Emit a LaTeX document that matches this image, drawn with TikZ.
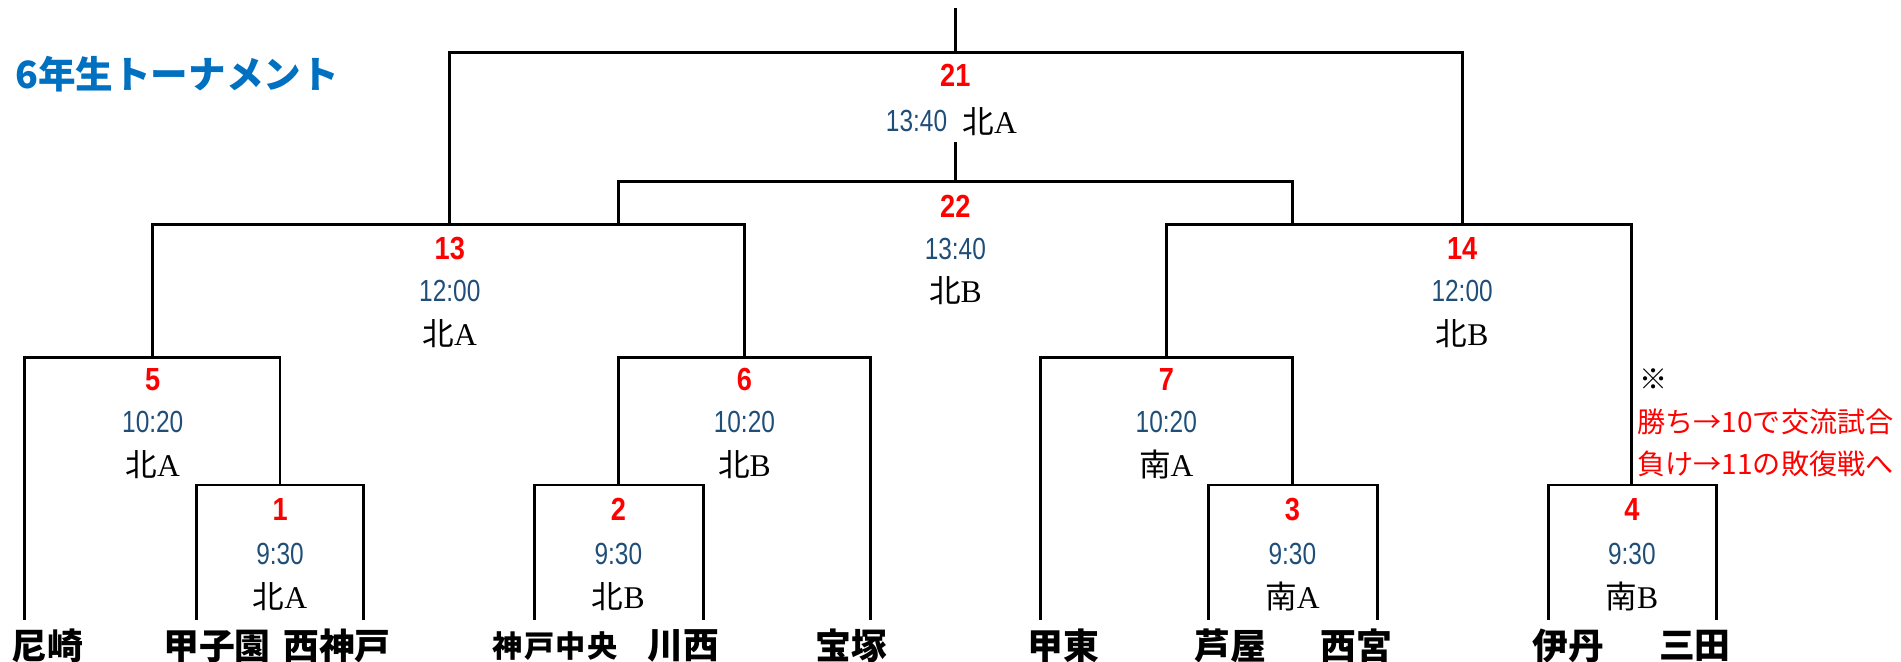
\documentclass[tikz,border=0pt]{standalone}
\usepackage{fontspec}
\usepackage{tikz}
\usetikzlibrary{positioning}

\setmainfont{Liberation Serif}
\newfontfamily\jpfont{Noto Sans CJK JP}
\newfontfamily\numfont{Liberation Sans}[FakeStretch=0.85]
\newfontfamily\timefont{Liberation Sans}[FakeStretch=0.8]
\definecolor{titleblue}{RGB}{0,112,192}
\definecolor{timeblue}{RGB}{31,78,121}
\newcommand{\court}[2]{{\jpfont #1}#2}

\begin{document}
\begin{tikzpicture}[x=0.012124cm,y=-0.012124cm,
	paths/.style={line width=0.8pt, line cap=rect},
	num/.style={inner sep=0pt, text=red, font=\fontsize{9.1}{9.1}\selectfont\numfont\bfseries},
	time/.style={inner sep=0pt, text=timeblue, font=\fontsize{8.7}{8.7}\selectfont\timefont},
	court/.style={inner sep=0pt, font=\fontsize{9}{9}\selectfont},
	team/.style={inner sep=0pt, font=\fontsize{10.2}{10.2}\selectfont\jpfont\bfseries},
	smallteam/.style={inner sep=0pt, font=\fontsize{8.6}{8.6}\selectfont\jpfont\bfseries\addfontfeature{LetterSpace=5}},
	note/.style={inner sep=0pt, anchor=west, text=red, font=\fontsize{8}{8}\selectfont\jpfont},
	heading/.style={inner sep=0pt, anchor=west, text=titleblue, font=\fontsize{10.7}{10.7}\selectfont\jpfont\bfseries}
	]
\useasboundingbox (0,0) rectangle (1568,546);

\node[heading] (title) at (12,61) {6年生トーナメント};

% leaves
\coordinate (a1) at (20,510);
\coordinate (a2) at (162,510);
\coordinate (a3) at (300,510);
\coordinate (a4) at (441,510);
\coordinate (a5) at (580,510);
\coordinate (a6) at (718,510);
\coordinate (a7) at (858,510);
\coordinate (a8) at (997,510);
\coordinate (a9) at (1136,510);
\coordinate (a10) at (1277,510);
\coordinate (a11) at (1416,510);

% matches
\coordinate (m1) at (231,400);
\coordinate (m2) at (510,400);
\coordinate (m3) at (1066,400);
\coordinate (m4) at (1346,400);
\coordinate (m5) at (126,295);
\coordinate (m6) at (614,295);
\coordinate (m7) at (962,295);
\coordinate (m13) at (371,185);
\coordinate (m14) at (1206,185);
\coordinate (m21) at (788,43);
\coordinate (m22) at (788,150);
\coordinate (j13) at (510,185);
\coordinate (j14) at (1066,185);
\coordinate (top) at (788,8);
\coordinate (s22) at (788,118);

\draw[paths](a2) |- (m1) -| (a3);
\draw[paths](a4) |- (m2) -| (a5);
\draw[paths](a8) |- (m3) -| (a9);
\draw[paths](a10) |- (m4) -| (a11);

\draw[paths](a1) |- (m5) -| (m1);
\draw[paths](m2) |- (m6) -| (a6);
\draw[paths](a7) |- (m7) -| (m3);

\draw[paths](m5) |- (m13) -| (m6);
\draw[paths](m7) |- (m14) -| (m4);

\draw[paths](m13) |- (m21) -| (m14);
\draw[paths](j13) |- (m22) -| (j14);
\draw[paths](m21) -- (top);
\draw[paths](m22) -- (s22);

% match labels
\node[num](n21) at (788,62) {21};
\node[time](h21) at (756,100) {13:40};
\node[court](c21) [right = 4pt of h21] {\court{北}{A}};

\node[num](n22) at (788,170) {22};
\node[time](h22) at (788,205) {13:40};
\node[court](c22) at (788,240) {\court{北}{B}};

\node[num](n13) at (371,205) {13};
\node[time](h13) at (371,240) {12:00};
\node[court](c13) at (371,275) {\court{北}{A}};

\node[num](n14) at (1206,205) {14};
\node[time](h14) at (1206,240) {12:00};
\node[court](c14) at (1206,275) {\court{北}{B}};

\node[num](n5) at (126,313) {5};
\node[time](h5) at (126,348) {10:20};
\node[court](c5) at (126,383) {\court{北}{A}};

\node[num](n6) at (614,313) {6};
\node[time](h6) at (614,348) {10:20};
\node[court](c6) at (614,383) {\court{北}{B}};

\node[num](n7) at (962,313) {7};
\node[time](h7) at (962,348) {10:20};
\node[court](c7) at (962,383) {\court{南}{A}};

\node[num](n1) at (231,420) {1};
\node[time](h1) at (231,457) {9:30};
\node[court](c1) at (231,492) {\court{北}{A}};

\node[num](n2) at (510,420) {2};
\node[time](h2) at (510,457) {9:30};
\node[court](c2) at (510,492) {\court{北}{B}};

\node[num](n3) at (1066,420) {3};
\node[time](h3) at (1066,457) {9:30};
\node[court](c3) at (1066,492) {\court{南}{A}};

\node[num](n4) at (1346,420) {4};
\node[time](h4) at (1346,457) {9:30};
\node[court](c4) at (1346,492) {\court{南}{B}};

% note
\node[note, text=black](mark) at (1352,313) {※};
\node[note](win) at (1350,348) {勝ち→10で交流試合};
\node[note](lose) at (1350,383) {負け→11の敗復戦へ};

% teams
\node[team](amagasaki) at (39,533) {尼崎};
\node[team](koshien) at (179,533) {甲子園};
\node[team](nishikobe) at (278,533) {西神戸};
\node[smallteam](kobechuo) at (458,533) {神戸中央};
\node[team](kawanishi) at (564,533) {川西};
\node[team](takarazuka) at (702,533) {宝塚};
\node[team](koto) at (877,533) {甲東};
\node[team](ashiya) at (1015,533) {芦屋};
\node[team](nishinomiya) at (1119,533) {西宮};
\node[team](itami) at (1294,533) {伊丹};
\node[team](sanda) at (1398,533) {三田};
\end{tikzpicture}
\end{document}
